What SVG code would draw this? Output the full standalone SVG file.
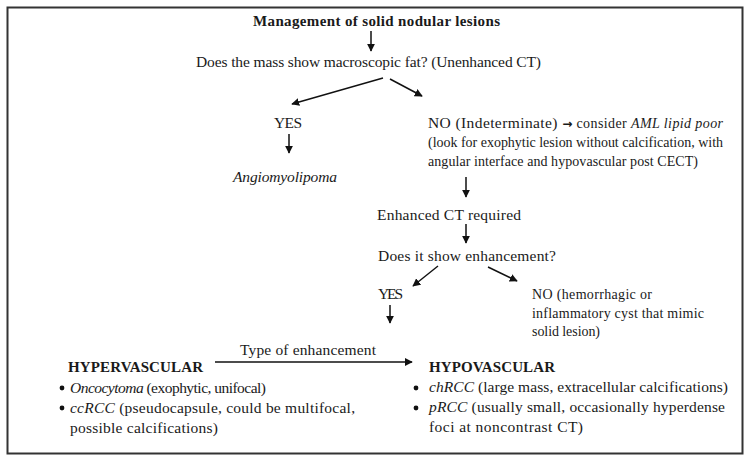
<svg xmlns="http://www.w3.org/2000/svg" width="751" height="464" viewBox="0 0 751 464">
<defs>
<marker id="ahs" viewBox="0 0 10 10" refX="9" refY="5" markerWidth="8" markerHeight="8" orient="auto" markerUnits="userSpaceOnUse">
<path d="M0,0 L10,5 L0,10 z" fill="#111"/>
</marker>
</defs>
<style>
text{font-family:"Liberation Serif","DejaVu Serif",serif;font-size:15.5px;fill:#1a1a1a}
.b{font-weight:bold;font-size:15px}
.i{font-style:italic}
.s{font-size:14px}
.arr{font-family:"DejaVu Sans",sans-serif;font-weight:bold;font-size:12px}
.c line{stroke:#111;stroke-width:1.5;marker-end:url(#ahs)}
.dot{fill:#111}
</style>
<rect x="7.5" y="7.5" width="735" height="446" fill="#fff" stroke="#333" stroke-width="2"/>
<g id="title"><text class="b" x="253" y="26" textLength="247">Management of solid nodular lesions</text></g>
<g id="q1"><text x="196" y="67" textLength="345">Does the mass show macroscopic fat? (Unenhanced CT)</text></g>
<g id="yes1"><text x="274" y="128" textLength="28">YES</text></g>
<g id="aml"><text class="i" x="233" y="182" textLength="104">Angiomyolipoma</text></g>
<g id="no1">
<text x="428" y="128" textLength="295">NO (Indeterminate) <tspan class="arr">→</tspan><tspan class="s"> consider </tspan><tspan class="s i">AML lipid poor</tspan></text>
<text class="s" x="428" y="147" textLength="295">(look for exophytic lesion without calcification, with</text>
<text class="s" x="428" y="166" textLength="270">angular interface and hypovascular post CECT)</text>
</g>
<g id="enh"><text x="377" y="220" textLength="144">Enhanced CT required</text></g>
<g id="q2"><text x="378" y="261" textLength="178">Does it show enhancement?</text></g>
<g id="yes2"><text x="378" y="299" textLength="25">YES</text></g>
<g id="no2">
<text class="s" x="532" y="299" textLength="120">NO (hemorrhagic or</text>
<text class="s" x="532" y="317.5" textLength="172">inflammatory cyst that mimic</text>
<text class="s" x="532" y="336" textLength="68">solid lesion)</text>
</g>
<g id="type"><text x="240" y="355" textLength="136">Type of enhancement</text></g>
<g id="hyper">
<text class="b" x="68" y="372" textLength="135">HYPERVASCULAR</text>
<circle class="dot" cx="62" cy="388" r="2.4"/>
<text x="70" y="393" textLength="196"><tspan class="i">Oncocytoma</tspan> (exophytic, unifocal)</text>
<circle class="dot" cx="62" cy="408" r="2.4"/>
<text x="70" y="413" textLength="285"><tspan class="i">ccRCC</tspan> (pseudocapsule, could be multifocal,</text>
<text x="70" y="433" textLength="148">possible calcifications)</text>
</g>
<g id="hypo">
<text class="b" x="429" y="372" textLength="126">HYPOVASCULAR</text>
<circle class="dot" cx="416" cy="388" r="2.4"/>
<text x="429" y="392" textLength="299"><tspan class="i">chRCC</tspan> (large mass, extracellular calcifications)</text>
<circle class="dot" cx="416" cy="408" r="2.4"/>
<text x="429" y="412" textLength="296"><tspan class="i">pRCC</tspan> (usually small, occasionally hyperdense</text>
<text x="429" y="432" textLength="154">foci at noncontrast CT)</text>
</g>
<g class="c" id="connectors">
<line x1="371" y1="31" x2="371" y2="51"/>
<line x1="383" y1="78" x2="292" y2="104"/>
<line x1="390" y1="79" x2="422" y2="96"/>
<line x1="289" y1="134" x2="289" y2="153"/>
<line x1="466" y1="177" x2="466" y2="197"/>
<line x1="466" y1="224" x2="466" y2="243"/>
<line x1="438" y1="266" x2="413" y2="286"/>
<line x1="488" y1="267" x2="517" y2="281"/>
<line x1="390" y1="305" x2="390" y2="323"/>
<line x1="215" y1="362" x2="412" y2="362"/>
</g>
</svg>
